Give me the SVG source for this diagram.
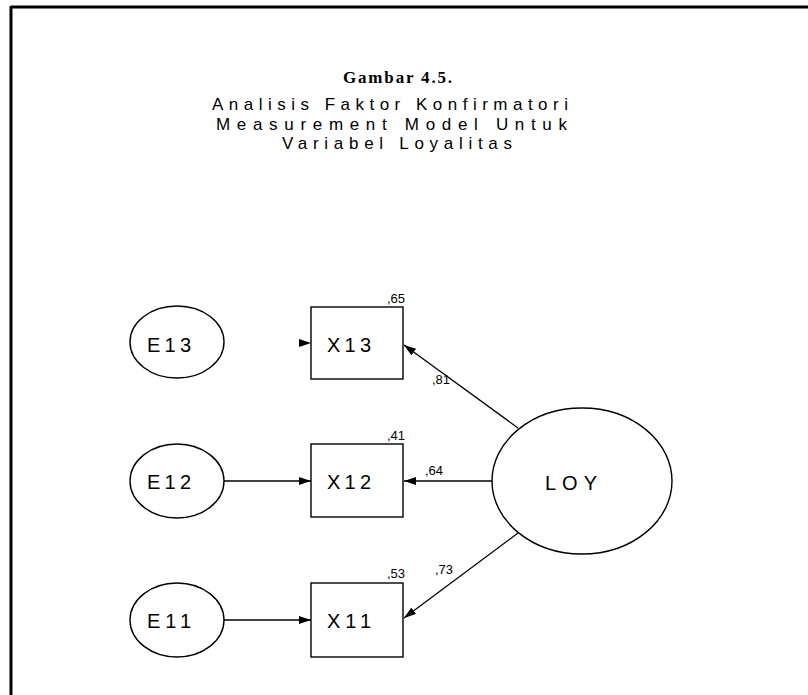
<svg xmlns="http://www.w3.org/2000/svg" width="808" height="695" viewBox="0 0 808 695">
<style>
.bd{stroke:#000;stroke-width:3;fill:none}
.sh{fill:#fff;stroke:#000;stroke-width:1.4}
.ln{stroke:#000;stroke-width:1.3;fill:none}
.lb{font-family:"Liberation Sans",Arial,sans-serif;font-size:20px;text-anchor:start;fill:#000}
.sm{font-family:"Liberation Sans",Arial,sans-serif;font-size:13px;fill:#000}
.tt{font-family:"Liberation Sans",Arial,sans-serif;font-size:17px;fill:#000}
.gm{font-family:"Liberation Serif","Times New Roman",serif;font-size:17px;font-weight:bold;fill:#000}
</style>
<defs>
<marker id="ah" markerWidth="12" markerHeight="8" refX="12" refY="4" orient="auto" markerUnits="userSpaceOnUse">
<path d="M0,0 L12,4 L0,8 Z" fill="#000"/>
</marker>
</defs>
<g id="border">
<line class="bd" x1="11" y1="7" x2="808" y2="7"/>
<line class="bd" x1="11" y1="6" x2="11" y2="695"/>
</g>
<g id="title">
<text class="gm" x="343" y="83" textLength="109" lengthAdjust="spacing">Gambar 4.5.</text>
<text class="tt" x="212" y="110" textLength="356" lengthAdjust="spacing">Analisis Faktor Konfirmatori</text>
<text class="tt" x="216" y="129.5" textLength="351" lengthAdjust="spacing">Measurement Model Untuk</text>
<text class="tt" x="282" y="149" textLength="230" lengthAdjust="spacing">Variabel Loyalitas</text>
</g>
<g id="connectors">
<path d="M299,339 L311,343 L299,347 Z" fill="#000"/>
<line class="ln" x1="224" y1="481" x2="311" y2="481" marker-end="url(#ah)"/>
<line class="ln" x1="224" y1="620" x2="311" y2="620" marker-end="url(#ah)"/>
<line class="ln" x1="518" y1="428" x2="404" y2="345" marker-end="url(#ah)"/>
<line class="ln" x1="492" y1="481" x2="404" y2="481" marker-end="url(#ah)"/>
<line class="ln" x1="518" y1="533" x2="404" y2="618" marker-end="url(#ah)"/>
<text class="sm" x="432" y="384">,81</text>
<text class="sm" x="425" y="475">,64</text>
<text class="sm" x="435" y="574">,73</text>
</g>
<g id="E13">
<ellipse class="sh" cx="177" cy="342" rx="47" ry="36"/>
<text class="lb" x="147" y="352" textLength="44" lengthAdjust="spacing">E13</text>
</g>
<g id="X13">
<rect class="sh" x="311" y="307" width="92" height="72"/>
<text class="lb" x="327" y="352" textLength="44" lengthAdjust="spacing">X13</text>
<text class="sm" x="387" y="303">,65</text>
</g>
<g id="E12">
<ellipse class="sh" cx="177" cy="481" rx="47" ry="37"/>
<text class="lb" x="147" y="489" textLength="44" lengthAdjust="spacing">E12</text>
</g>
<g id="X12">
<rect class="sh" x="311" y="444" width="92" height="73"/>
<text class="lb" x="327" y="489" textLength="44" lengthAdjust="spacing">X12</text>
<text class="sm" x="387" y="440">,41</text>
</g>
<g id="E11">
<ellipse class="sh" cx="177" cy="620" rx="47" ry="37"/>
<text class="lb" x="147" y="628" textLength="44" lengthAdjust="spacing">E11</text>
</g>
<g id="X11">
<rect class="sh" x="311" y="583" width="92" height="74"/>
<text class="lb" x="327" y="628" textLength="44" lengthAdjust="spacing">X11</text>
<text class="sm" x="387" y="578">,53</text>
</g>
<g id="LOY">
<ellipse class="sh" cx="582" cy="481" rx="90" ry="73"/>
<text class="lb" x="545" y="490" textLength="52" lengthAdjust="spacing">LOY</text>
</g>
</svg>
